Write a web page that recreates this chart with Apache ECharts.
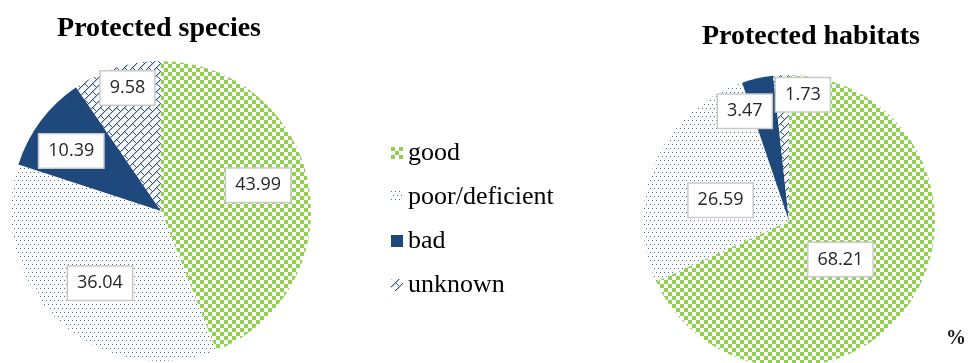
<!DOCTYPE html>
<html>
<head>
<meta charset="utf-8">
<script src="https://cdn.jsdelivr.net/npm/echarts@6/dist/echarts.min.js"></script>
<style>
  html, body { margin: 0; padding: 0; background: #fff; }
  #chart { width: 971px; height: 363px; }
</style>
</head>
<body>
<div id="chart"></div>
<script>
// Conservation status shares (%)
const categories = ['good', 'poor/deficient', 'bad', 'unknown'];
const speciesValues = [43.99, 36.04, 10.39, 9.58];
const habitatValues = [68.21, 26.59, 3.47, 1.73];
const chartTitles = ['Protected species', 'Protected habitats'];

// Small repeating tiles used as hatch fills
function makeTile(size, draw) {
  const c = document.createElement('canvas');
  c.width = c.height = size;
  const ctx = c.getContext('2d');
  ctx.fillStyle = '#ffffff';
  ctx.fillRect(0, 0, size, size);
  draw(ctx);
  return c;
}
const checkerTile = makeTile(8, ctx => {
  ctx.fillStyle = '#92D050';
  ctx.fillRect(0, 0, 4, 4);
  ctx.fillRect(4, 4, 4, 4);
});
const dotTile = makeTile(8, ctx => {
  ctx.fillStyle = '#4A6FA5';
  [[0, 0], [4, 0], [2, 4], [6, 4]].forEach(([x, y]) => ctx.fillRect(x, y, 1, 1));
});
const brickTile = makeTile(8, ctx => {
  ctx.fillStyle = '#2B5288';
  for (let i = 0; i < 8; i++) ctx.fillRect(i, 7 - i, 1, 1);
  [[5, 4], [6, 5], [7, 6]].forEach(([x, y]) => ctx.fillRect(x, y, 1, 1));
  ctx.fillStyle = 'rgba(43,82,136,0.35)';
  for (let i = 0; i < 8; i++) ctx.fillRect(i, (8 - i) % 8, 1, 1);
});

const fills = [
  { image: checkerTile, repeat: 'repeat' },
  { image: dotTile, repeat: 'repeat' },
  '#1F497D',
  { image: brickTile, repeat: 'repeat' }
];

// Pie geometry and label placement (fraction of radius, angular nudge in degrees)
const pieLayout = [
  { center: [161, 211], radius: 150, labelR: [0.67, 0.63, 0.72, 0.85], labelTurn: [4, 3, 3, -2] },
  { center: [789, 221], radius: 146, labelR: [0.44, 0.49, 0.81, 0.87], labelTurn: [-4, 6.5, 9.5, -9.4] }
];

function labelAnchor(values, layout, i) {
  const total = values.reduce((a, b) => a + b, 0);
  let before = 0;
  for (let k = 0; k < i; k++) before += values[k];
  const mid = 90 - (before + values[i] / 2) / total * 360 + layout.labelTurn[i];
  const rad = mid * Math.PI / 180;
  const d = layout.radius * layout.labelR[i];
  return [layout.center[0] + d * Math.cos(rad), layout.center[1] - d * Math.sin(rad)];
}

const serif = 'Liberation Serif';

function pieSeries(values, layout) {
  return {
    type: 'pie',
    center: layout.center,
    radius: layout.radius,
    startAngle: 90,
    clockwise: true,
    silent: true,
    emphasis: { disabled: true },
    itemStyle: { borderWidth: 0 },
    label: {
      show: true,
      position: 'inside',
      formatter: p => p.value.toFixed(2),
      fontFamily: 'Open Sans',
      fontSize: 18,
      color: '#262626',
      backgroundColor: '#ffffff',
      borderColor: '#c9c9c9',
      borderWidth: 1.5,
      padding: [8, 9, 7, 9]
    },
    labelLine: { show: false },
    labelLayout: params => {
      const [x, y] = labelAnchor(values, layout, params.dataIndex);
      return { x, y, align: 'center', verticalAlign: 'middle' };
    },
    data: categories.map((name, i) => ({ name, value: values[i], itemStyle: { color: fills[i] } }))
  };
}

const chart = echarts.init(document.getElementById('chart'), null, { renderer: 'canvas' });
chart.setOption({
  animation: false,
  backgroundColor: '#ffffff',
  title: [
    {
      text: chartTitles[0], left: 154, top: 10, textAlign: 'center',
      textStyle: { fontFamily: serif, fontWeight: 'bold', fontSize: 28, color: '#000' }
    },
    {
      text: chartTitles[1], left: 806, top: 18, textAlign: 'center',
      textStyle: { fontFamily: serif, fontWeight: 'bold', fontSize: 28, color: '#000' }
    }
  ],
  legend: {
    data: categories,
    orient: 'vertical',
    left: 386,
    top: 135,
    icon: 'rect',
    itemWidth: 12,
    itemHeight: 12,
    itemGap: 18,
    selectedMode: false,
    textStyle: { fontFamily: serif, fontWeight: 'normal', fontSize: 26, lineHeight: 26, color: '#000' }
  },
  graphic: [{
    type: 'text',
    left: 946,
    top: 329,
    style: { text: '%', fontFamily: serif, fontWeight: 'bold', fontSize: 20, fill: '#1a1a1a' }
  }],
  series: [
    pieSeries(speciesValues, pieLayout[0]),
    pieSeries(habitatValues, pieLayout[1])
  ]
});
</script>
</body>
</html>
